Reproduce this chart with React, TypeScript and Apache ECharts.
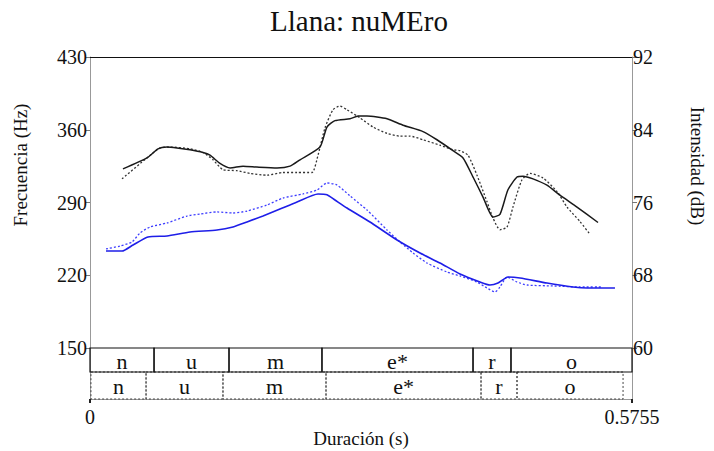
import React, { useEffect, useRef } from "react";
import * as echarts from "echarts";

const TITLE = "Llana: nuMEro";
const LEFT_NAME = "Frecuencia (Hz)";
const RIGHT_NAME = "Intensidad (dB)";
const X_NAME = "Duración (s)";

const X_MIN = 0;
const X_MAX = 0.5755;
const HZ_MIN = 150;
const HZ_MAX = 430;
const HZ_STEP = 70;
const DB_MIN = 60;
const DB_MAX = 92;
const DB_STEP = 8;

// Intensity (right axis), solid
const intA_t = [0.035, 0.0605, 0.0722, 0.0818, 0.0924, 0.1062, 0.12, 0.1274, 0.138, 0.1487, 0.1625, 0.1773, 0.1986, 0.2124, 0.223, 0.2442, 0.2516, 0.2601, 0.2761, 0.2846, 0.2941, 0.3154, 0.3323, 0.3536, 0.3684, 0.3854, 0.3961, 0.4067, 0.4173, 0.4279, 0.4353, 0.4438, 0.4534, 0.4598, 0.4704, 0.4852, 0.499, 0.5171, 0.5394];
const intA_db = [79.7, 80.9, 81.9, 82.1, 82.0, 81.8, 81.5, 81.2, 80.3, 79.8, 80.0, 79.9, 79.8, 80.0, 80.7, 82.1, 84.3, 85.0, 85.2, 85.5, 85.5, 85.2, 84.5, 83.8, 82.9, 81.7, 80.9, 78.8, 76.6, 74.4, 74.7, 77.4, 78.8, 78.9, 78.6, 77.9, 76.8, 75.5, 73.8];

// Intensity (right axis), dotted
const intB_t = [0.034, 0.0616, 0.0743, 0.0849, 0.1062, 0.12, 0.1306, 0.1412, 0.1561, 0.1699, 0.1879, 0.2049, 0.2198, 0.2357, 0.2421, 0.2495, 0.258, 0.2654, 0.2729, 0.2867, 0.3005, 0.3154, 0.3292, 0.3398, 0.3536, 0.3716, 0.3854, 0.3929, 0.4014, 0.4109, 0.4215, 0.4279, 0.4353, 0.4428, 0.4491, 0.4587, 0.4672, 0.481, 0.4959, 0.5065, 0.5203, 0.5309];
const intB_db = [78.6, 81.0, 82.0, 82.1, 81.9, 81.5, 80.7, 79.6, 79.5, 79.2, 79.0, 79.3, 79.3, 79.3, 81.2, 84.2, 86.2, 86.6, 86.2, 85.3, 84.3, 83.6, 83.3, 83.3, 82.9, 82.3, 81.8, 81.7, 81.2, 79.0, 76.1, 74.3, 73.0, 73.3, 75.5, 78.5, 79.2, 78.7, 77.2, 75.5, 73.9, 72.5];

// F0 (left axis), solid
const f0A_t = [0.017, 0.034, 0.0457, 0.0616, 0.0818, 0.1062, 0.1348, 0.1518, 0.1667, 0.1837, 0.2017, 0.2198, 0.2421, 0.2516, 0.2601, 0.2729, 0.2973, 0.326, 0.3504, 0.3716, 0.3929, 0.4141, 0.4247, 0.4332, 0.4438, 0.4566, 0.4852, 0.5129, 0.5277, 0.5574];
const f0A_hz = [243.3, 243.3, 249.1, 256.8, 257.8, 261.6, 263.5, 266.4, 271.2, 277.0, 283.7, 290.5, 298.2, 297.5, 292.4, 284.7, 271.2, 253.9, 241.4, 231.8, 221.2, 213.5, 210.6, 212.5, 218.3, 217.4, 212.5, 208.7, 207.7, 207.7];

// F0 (left axis), dotted
const f0B_t = [0.017, 0.0319, 0.0446, 0.0531, 0.0637, 0.0818, 0.103, 0.1168, 0.1348, 0.1518, 0.1667, 0.1879, 0.2049, 0.2262, 0.241, 0.2516, 0.2623, 0.2761, 0.2941, 0.3154, 0.3292, 0.343, 0.3578, 0.3791, 0.3929, 0.4109, 0.4215, 0.43, 0.4353, 0.4428, 0.4534, 0.464, 0.4916, 0.5203, 0.5436];
const f0B_hz = [245.3, 248.1, 252.0, 260.7, 266.4, 270.3, 277.0, 278.9, 280.9, 279.9, 281.8, 287.6, 294.3, 298.2, 302.0, 308.8, 306.8, 296.3, 282.8, 263.5, 252.0, 241.4, 231.8, 223.1, 219.3, 213.5, 207.7, 203.9, 208.7, 218.3, 213.5, 210.6, 209.7, 208.7, 208.7];

// Segmentation tiers
const segLabels = ["n", "u", "m", "e*", "r", "o"];
const segTopBounds = [0, 0.068, 0.1476, 0.2463, 0.4067, 0.447, 0.5755];
const segBotBounds = [0.001, 0.0595, 0.1412, 0.2506, 0.4152, 0.4534, 0.566];

const FONT = "'Liberation Serif', 'Times New Roman', 'DejaVu Serif', serif";

function pairs(t: number[], v: number[]) {
  return t.map((x, i) => [x, v[i]]);
}
function segData(bounds: number[], row: number) {
  return segLabels.map((_, i) => [bounds[i], bounds[i + 1], row]);
}

export default function App() {
  const ref = useRef<HTMLDivElement>(null);
  useEffect(() => {
    if (!ref.current) return;
    const chart = echarts.init(ref.current, null, { renderer: "svg" });
    const makeSegRender = (row: number) => (params: any, api: any) => {
      const s = api.value(0);
      const e = api.value(1);
      const yTop = row === 0 ? 51 : 27;
      const yBot = row === 0 ? 27 : 0;
      const p1 = api.coord([s, yTop]);
      const p2 = api.coord([e, yBot]);
      return {
        type: "group",
        children: [
          {
            type: "rect",
            shape: { x: p1[0], y: p1[1], width: p2[0] - p1[0], height: p2[1] - p1[1] },
            style: {
              fill: "none",
              stroke: row === 0 ? "#111" : "#444",
              lineWidth: row === 0 ? 1.2 : 1,
              lineDash: row === 0 ? null : [2, 2],
            },
          },
          {
            type: "text",
            x: (p1[0] + p2[0]) / 2,
            y: (p1[1] + p2[1]) / 2 + 1,
            style: {
              text: segLabels[params.dataIndex],
              textAlign: "center",
              textVerticalAlign: "middle",
              font: `22px ${FONT}`,
              fill: "#111",
            },
          },
        ],
      };
    };

    const option: any = {
      animation: false,
      backgroundColor: "#fff",
      textStyle: { fontFamily: FONT },
      grid: [
        { left: 90, top: 57, width: 542, height: 291 },
        { left: 90, top: 348, width: 542, height: 51 },
      ],
      xAxis: [
        {
          type: "value",
          gridIndex: 0,
          min: X_MIN,
          max: X_MAX,
          position: "top",
          axisLine: { show: true, lineStyle: { color: "#111", width: 1 } },
          axisTick: { show: false },
          axisLabel: { show: false },
          splitLine: { show: false },
        },
        {
          type: "value",
          gridIndex: 1,
          min: X_MIN,
          max: X_MAX,
          interval: X_MAX,
          position: "bottom",
          axisLine: { show: true, lineStyle: { color: "#999", width: 1 } },
          axisTick: { show: true, length: 4, lineStyle: { color: "#222", width: 2 } },
          axisLabel: {
            show: true,
            margin: 8,
            fontSize: 20,
            fontFamily: FONT,
            color: "#111",
            showMinLabel: true,
            showMaxLabel: true,
          },
          splitLine: { show: false },
        },
      ],
      yAxis: [
        {
          type: "value",
          gridIndex: 0,
          position: "left",
          min: HZ_MIN,
          max: HZ_MAX,
          interval: HZ_STEP,
          axisLine: { show: true, lineStyle: { color: "#999" } },
          axisTick: { show: true, length: 5, lineStyle: { color: "#777" } },
          axisLabel: { fontSize: 20, fontFamily: FONT, color: "#111", margin: 3 },
          splitLine: { show: false },
        },
        {
          type: "value",
          gridIndex: 0,
          position: "right",
          min: DB_MIN,
          max: DB_MAX,
          interval: DB_STEP,
          axisLine: { show: true, lineStyle: { color: "#999" } },
          axisTick: { show: true, length: 5, lineStyle: { color: "#777" } },
          axisLabel: { fontSize: 20, fontFamily: FONT, color: "#111", margin: 1 },
          splitLine: { show: false },
        },
        {
          type: "value",
          gridIndex: 1,
          position: "left",
          min: 0,
          max: 51,
          axisLine: { show: true, lineStyle: { color: "#999" } },
          axisTick: { show: false },
          axisLabel: { show: false },
          splitLine: { show: false },
        },
        {
          type: "value",
          gridIndex: 1,
          position: "right",
          min: 0,
          max: 51,
          axisLine: { show: true, lineStyle: { color: "#999" } },
          axisTick: { show: false },
          axisLabel: { show: false },
          splitLine: { show: false },
        },
      ],
      series: [
        {
          type: "line",
          xAxisIndex: 0,
          yAxisIndex: 1,
          data: pairs(intB_t, intB_db),
          showSymbol: false,
          smooth: 0.2,
          lineStyle: { color: "#333", width: 1.3, type: [2, 2] },
        },
        {
          type: "line",
          xAxisIndex: 0,
          yAxisIndex: 1,
          data: pairs(intA_t, intA_db),
          showSymbol: false,
          smooth: 0.2,
          lineStyle: { color: "#1a1a1a", width: 1.5 },
        },
        {
          type: "line",
          xAxisIndex: 0,
          yAxisIndex: 0,
          data: pairs(f0B_t, f0B_hz),
          showSymbol: false,
          smooth: 0.2,
          lineStyle: { color: "#3d3dff", width: 1.3, type: [2, 2] },
        },
        {
          type: "line",
          xAxisIndex: 0,
          yAxisIndex: 0,
          data: pairs(f0A_t, f0A_hz),
          showSymbol: false,
          smooth: 0.2,
          lineStyle: { color: "#1e1ee8", width: 1.6 },
        },
        {
          type: "custom",
          xAxisIndex: 1,
          yAxisIndex: 2,
          data: segData(segBotBounds, 1),
          encode: { x: [0, 1], y: 2 },
          renderItem: makeSegRender(1),
          clip: false,
        },
        {
          type: "custom",
          xAxisIndex: 1,
          yAxisIndex: 2,
          data: segData(segTopBounds, 0),
          encode: { x: [0, 1], y: 2 },
          renderItem: makeSegRender(0),
          clip: false,
        },
      ],
      graphic: [
        {
          type: "text",
          x: 359,
          y: 21,
          style: { text: TITLE, font: `29px ${FONT}`, fill: "#111", textAlign: "center", textVerticalAlign: "middle" },
        },
        {
          type: "text",
          x: 20,
          y: 165,
          rotation: Math.PI / 2,
          style: { text: LEFT_NAME, font: `19px ${FONT}`, fill: "#111", textAlign: "center", textVerticalAlign: "middle" },
        },
        {
          type: "text",
          x: 697,
          y: 166,
          rotation: -Math.PI / 2,
          style: { text: RIGHT_NAME, font: `19px ${FONT}`, fill: "#111", textAlign: "center", textVerticalAlign: "middle" },
        },
        {
          type: "text",
          x: 361,
          y: 438,
          style: { text: X_NAME, font: `19px ${FONT}`, fill: "#111", textAlign: "center", textVerticalAlign: "middle" },
        },
      ],
    };
    chart.setOption(option);
    return () => chart.dispose();
  }, []);
  return (
    <div
      ref={ref}
      style={{ position: "absolute", left: 0, top: 0, width: 714, height: 451 }}
    />
  );
}
